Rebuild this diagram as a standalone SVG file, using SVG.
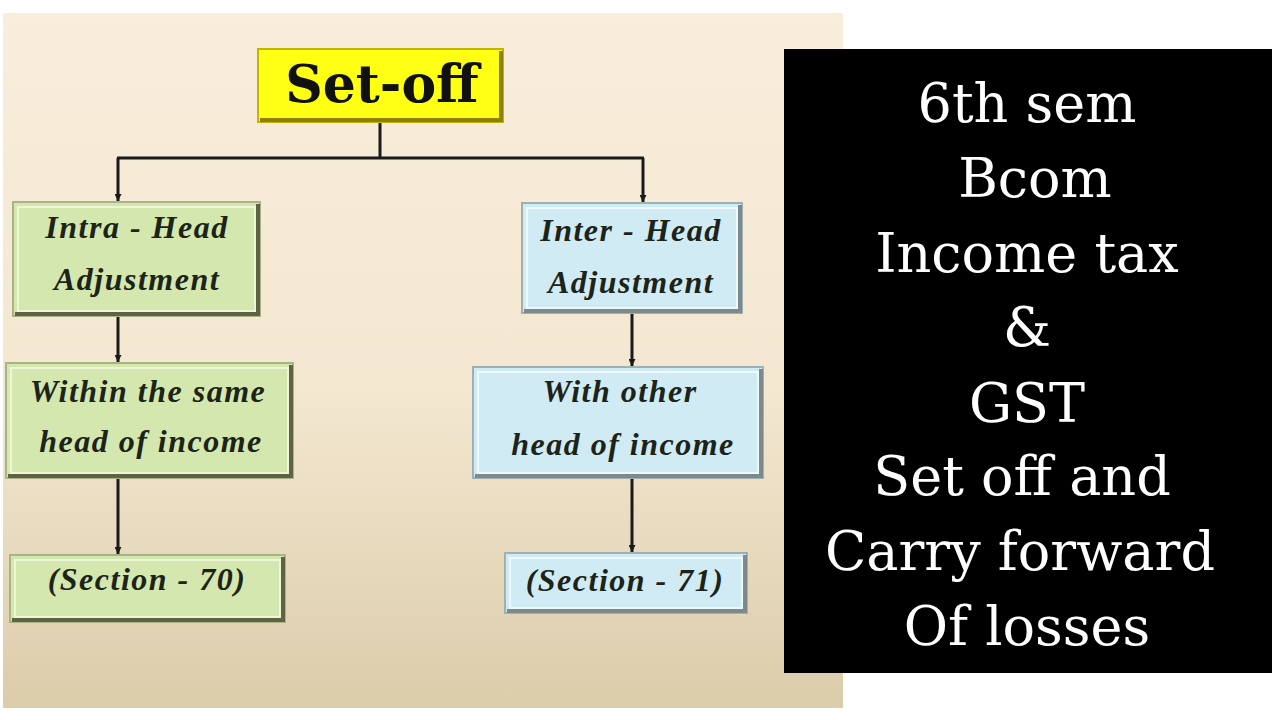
<svg xmlns="http://www.w3.org/2000/svg" width="1280" height="720" viewBox="0 0 1280 720">
  <defs>
    <linearGradient id="bg" x1="0" y1="0" x2="0" y2="1">
      <stop offset="0" stop-color="#f9eedc"/>
      <stop offset="0.55" stop-color="#f3e7d0"/>
      <stop offset="1" stop-color="#dbccaa"/>
    </linearGradient>
    <marker id="arr" viewBox="0 0 10 10" refX="10" refY="5" markerWidth="7" markerHeight="7" markerUnits="userSpaceOnUse" orient="auto">
      <path d="M0,0 L10,5 L0,10 z" fill="#1a1a1a"/>
    </marker>
    <style>
      .lbl { font-family: "Liberation Serif", "Times New Roman", serif; font-weight: bold; font-style: italic; font-size: 32px; letter-spacing: 1.5px; fill: #1c241a; text-anchor: middle; }
      .green { fill: #d4e7ae; stroke: #a8b486; stroke-width: 2; }
      .blue { fill: #d1ebf4; stroke: #9fb0b4; stroke-width: 2; }
      .gin { fill: none; stroke: #eef6d8; stroke-width: 2; }
      .bin { fill: none; stroke: #eef9fc; stroke-width: 2; }
      .gshadow { fill: none; stroke: #5e6344; stroke-width: 4; }
      .bshadow { fill: none; stroke: #7d8a8c; stroke-width: 4; }
      .conn { stroke: #1a1a1a; stroke-width: 3; fill: none; }
      .side { font-family: "DejaVu Serif", "Liberation Serif", serif; font-size: 54px; fill: #ffffff; text-anchor: middle; }
    </style>
  </defs>

  <rect x="0" y="0" width="1280" height="720" fill="#ffffff"/>
  <rect x="3" y="13" width="840" height="695" fill="url(#bg)"/>

  <g id="connectors">
    <line class="conn" x1="380" y1="122" x2="380" y2="158"/>
    <line class="conn" x1="117" y1="158" x2="644" y2="158"/>
    <line class="conn" x1="118" y1="158" x2="118" y2="201" marker-end="url(#arr)"/>
    <line class="conn" x1="643" y1="158" x2="643" y2="202" marker-end="url(#arr)"/>
    <line class="conn" x1="118" y1="317" x2="118" y2="362" marker-end="url(#arr)"/>
    <line class="conn" x1="118" y1="479" x2="118" y2="554" marker-end="url(#arr)"/>
    <line class="conn" x1="632" y1="314" x2="632" y2="366" marker-end="url(#arr)"/>
    <line class="conn" x1="632" y1="479" x2="632" y2="552" marker-end="url(#arr)"/>
  </g>

  <g id="setoff">
    <rect x="258" y="49" width="245" height="73" fill="#ffff14" stroke="#c2b400" stroke-width="2"/>
    <polyline points="260,120 501,120 501,51" fill="none" stroke="#8f8000" stroke-width="4"/>
    <text x="382" y="102" font-family="DejaVu Serif, Liberation Serif, serif" font-weight="bold" font-size="52" fill="#111111" text-anchor="middle">Set-off</text>
  </g>

  <g id="intra">
    <rect class="green" x="13" y="202" width="247" height="114"/>
    <rect class="gin" x="18" y="207" width="237" height="104"/>
    <polyline class="gshadow" points="15,314 258,314 258,204"/>
    <text class="lbl" x="137" y="238">Intra - Head</text>
    <text class="lbl" x="137" y="290">Adjustment</text>
  </g>

  <g id="within">
    <rect class="green" x="6" y="363" width="287" height="115"/>
    <rect class="gin" x="11" y="368" width="277" height="105"/>
    <polyline class="gshadow" points="8,476 291,476 291,365"/>
    <text class="lbl" x="148" y="402">Within the same</text>
    <text class="lbl" x="151" y="452">head of income</text>
  </g>

  <g id="section70">
    <rect class="green" x="10" y="555" width="275" height="67"/>
    <rect class="gin" x="15" y="560" width="265" height="57"/>
    <polyline class="gshadow" points="12,620 283,620 283,557"/>
    <text class="lbl" x="147" y="590">(Section - 70)</text>
  </g>

  <g id="inter">
    <rect class="blue" x="522" y="203" width="220" height="110"/>
    <rect class="bin" x="527" y="208" width="210" height="100"/>
    <polyline class="bshadow" points="524,311 740,311 740,205"/>
    <text class="lbl" x="631" y="241">Inter - Head</text>
    <text class="lbl" x="631" y="293">Adjustment</text>
  </g>

  <g id="withother">
    <rect class="blue" x="473" y="367" width="290" height="111"/>
    <rect class="bin" x="478" y="372" width="280" height="101"/>
    <polyline class="bshadow" points="475,476 761,476 761,369"/>
    <text class="lbl" x="620" y="402">With other</text>
    <text class="lbl" x="623" y="455">head of income</text>
  </g>

  <g id="section71">
    <rect class="blue" x="505" y="553" width="242" height="60"/>
    <rect class="bin" x="510" y="558" width="232" height="50"/>
    <polyline class="bshadow" points="507,611 745,611 745,555"/>
    <text class="lbl" x="625" y="591">(Section - 71)</text>
  </g>

  <g id="title-panel">
    <rect x="784" y="49" width="488" height="624" fill="#000000"/>
    <text class="side" x="1027" y="122">6th sem</text>
    <text class="side" x="1035" y="197">Bcom</text>
    <text class="side" x="1027" y="272">Income tax</text>
    <text class="side" x="1027" y="346">&amp;</text>
    <text class="side" x="1027" y="422">GST</text>
    <text class="side" x="1022" y="495">Set off and</text>
    <text class="side" x="1020" y="570">Carry forward</text>
    <text class="side" x="1027" y="645">Of losses</text>
  </g>
</svg>
